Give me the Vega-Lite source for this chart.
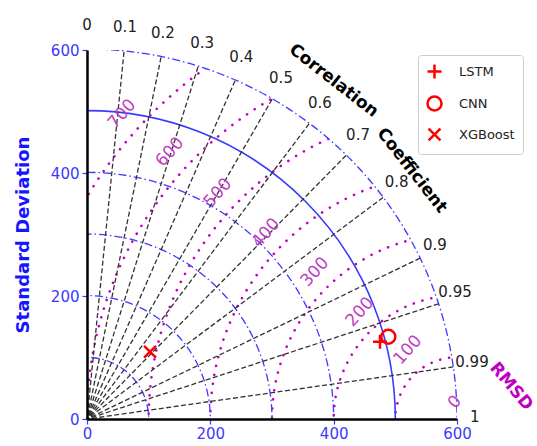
{
  "$schema": "https://vega.github.io/schema/vega-lite/v6.json",
  "width": 370,
  "height": 369,
  "autosize": {"type": "none"},
  "padding": {"left": 87, "top": 50, "right": 80, "bottom": 27},
  "background": "white",
  "config": {"view": {"stroke": null}, "font": "DejaVu Sans"},
  "layer": [
    {
      "data": {"values": [
        {"model": "LSTM", "x": 475.1, "y": 125.7},
        {"model": "CNN", "x": 488.6, "y": 133.8},
        {"model": "XGBoost", "x": 102.2, "y": 109.4}
      ]},
      "mark": {"type": "point", "filled": false, "color": "#ff0000", "strokeWidth": 2.5, "size": 196, "opacity": 0},
      "encoding": {
        "x": {"field": "x", "type": "quantitative", "scale": {"domain": [0, 600], "nice": false, "zero": false},
          "axis": {"values": [0, 200, 400, 600], "title": null, "grid": false, "domainColor": "#000000", "domainWidth": 2.5, "tickColor": "#3a3aff", "tickSize": 5, "tickWidth": 1.2, "labelColor": "#3a3aff", "labelFontSize": 15, "labelFont": "DejaVu Sans", "labelPadding": 2, "labelFlush": false, "zindex": 1}},
        "y": {"field": "y", "type": "quantitative", "scale": {"domain": [0, 600], "nice": false, "zero": false},
          "axis": {"values": [0, 200, 400, 600], "title": "Standard Deviation", "titleColor": "#1515ff", "titleFontSize": 18, "titleFontWeight": "bold", "titleFont": "DejaVu Sans", "titlePadding": 18, "grid": false, "domainColor": "#000000", "domainWidth": 2.5, "tickColor": "#3a3aff", "tickSize": 5, "tickWidth": 1.2, "labelColor": "#3a3aff", "labelFontSize": 15, "labelFont": "DejaVu Sans", "labelPadding": 3, "labelFlush": false, "zindex": 1}}
      }
    },
    {
      "data": {"values": [{"rmsd": 100}, {"rmsd": 200}, {"rmsd": 300}, {"rmsd": 400}, {"rmsd": 500}, {"rmsd": 600}, {"rmsd": 700}]},
      "mark": {"type": "point", "shape": "circle", "filled": false, "stroke": "#c000c0", "strokeWidth": 2.6, "strokeDash": [0.1, 9], "strokeCap": "round", "clip": true, "opacity": 1},
      "encoding": {
        "x": {"datum": 600, "type": "quantitative", "scale": {"domain": [0, 600], "nice": false, "zero": false}, "axis": {"title": null}},
        "y": {"datum": 0, "type": "quantitative", "scale": {"domain": [0, 600], "nice": false, "zero": false}, "axis": {"title": "Standard Deviation"}},
        "size": {"field": "rmsd", "type": "quantitative", "scale": {"type": "pow", "exponent": 2, "domain": [0, 600], "range": [0, 547600], "clamp": false}, "legend": null}
      }
    },
    {
      "data": {"values": [{"part": "mask"}]},
      "mark": {"type": "point", "shape": "circle", "filled": false, "stroke": "white", "strokeWidth": 170, "size": 828100, "clip": true, "opacity": 1},
      "encoding": {
        "x": {"datum": 0, "type": "quantitative", "scale": {"domain": [0, 600], "nice": false, "zero": false}, "axis": {"title": null}},
        "y": {"datum": 0, "type": "quantitative", "scale": {"domain": [0, 600], "nice": false, "zero": false}, "axis": {"title": "Standard Deviation"}}
      }
    },
    {
      "data": {"values": [{"sd": 100}, {"sd": 200}, {"sd": 300}, {"sd": 400}, {"sd": 600}]},
      "mark": {"type": "point", "shape": "circle", "filled": false, "stroke": "#3a3aff", "strokeWidth": 1.3, "strokeDash": [8, 3, 1.5, 3], "clip": true, "opacity": 1},
      "encoding": {
        "x": {"datum": 0, "type": "quantitative", "scale": {"domain": [0, 600], "nice": false, "zero": false}, "axis": {"title": null}},
        "y": {"datum": 0, "type": "quantitative", "scale": {"domain": [0, 600], "nice": false, "zero": false}, "axis": {"title": "Standard Deviation"}},
        "size": {"field": "sd", "type": "quantitative", "scale": {"type": "pow", "exponent": 2, "domain": [0, 600], "range": [0, 547600], "clamp": false}, "legend": null}
      }
    },
    {
      "data": {"values": [{"sd": 500}]},
      "mark": {"type": "point", "shape": "circle", "filled": false, "stroke": "#3a3aff", "strokeWidth": 1.6, "clip": true, "opacity": 1},
      "encoding": {
        "x": {"datum": 0, "type": "quantitative", "scale": {"domain": [0, 600], "nice": false, "zero": false}, "axis": {"title": null}},
        "y": {"datum": 0, "type": "quantitative", "scale": {"domain": [0, 600], "nice": false, "zero": false}, "axis": {"title": "Standard Deviation"}},
        "size": {"field": "sd", "type": "quantitative", "scale": {"type": "pow", "exponent": 2, "domain": [0, 600], "range": [0, 547600], "clamp": false}, "legend": null}
      }
    },
    {
      "data": {"values": [
        {"corr": 0.1, "ex": 60, "ey": 596.99},
        {"corr": 0.2, "ex": 120, "ey": 587.88},
        {"corr": 0.3, "ex": 180, "ey": 572.36},
        {"corr": 0.4, "ex": 240, "ey": 549.91},
        {"corr": 0.5, "ex": 300, "ey": 519.62},
        {"corr": 0.6, "ex": 360, "ey": 480},
        {"corr": 0.7, "ex": 420, "ey": 428.49},
        {"corr": 0.8, "ex": 480, "ey": 360},
        {"corr": 0.9, "ex": 540, "ey": 261.53},
        {"corr": 0.95, "ex": 570, "ey": 187.35},
        {"corr": 0.99, "ex": 594, "ey": 84.64}
      ]},
      "mark": {"type": "rule", "stroke": "#333333", "strokeWidth": 1.3, "strokeDash": [5, 2.5]},
      "encoding": {
        "x": {"field": "ex", "type": "quantitative", "scale": {"domain": [0, 600], "nice": false, "zero": false}, "axis": {"title": null}},
        "y": {"field": "ey", "type": "quantitative", "scale": {"domain": [0, 600], "nice": false, "zero": false}, "axis": {"title": "Standard Deviation"}},
        "x2": {"datum": 0},
        "y2": {"datum": 0}
      }
    },
    {
      "data": {"values": [
        {"c": "0", "lx": 0, "ly": 640},
        {"c": "0.1", "lx": 61.6, "ly": 637},
        {"c": "0.2", "lx": 123.2, "ly": 627.6},
        {"c": "0.3", "lx": 186.8, "ly": 610.9},
        {"c": "0.4", "lx": 250.2, "ly": 589.1},
        {"c": "0.5", "lx": 314.6, "ly": 554.5},
        {"c": "0.6", "lx": 377.8, "ly": 513.8},
        {"c": "0.7", "lx": 439.5, "ly": 461.8},
        {"c": "0.8", "lx": 502.2, "ly": 386},
        {"c": "0.9", "lx": 564.3, "ly": 282.9},
        {"c": "0.95", "lx": 596.8, "ly": 206.8},
        {"c": "0.99", "lx": 624.3, "ly": 92.7},
        {"c": "1", "lx": 629, "ly": 3.3}
      ]},
      "mark": {"type": "text", "fontSize": 15, "color": "#222222", "align": "center", "baseline": "middle"},
      "encoding": {
        "x": {"field": "lx", "type": "quantitative", "scale": {"domain": [0, 600], "nice": false, "zero": false}, "axis": {"title": null}},
        "y": {"field": "ly", "type": "quantitative", "scale": {"domain": [0, 600], "nice": false, "zero": false}, "axis": {"title": "Standard Deviation"}},
        "text": {"field": "c"}
      }
    },
    {
      "data": {"values": [
        {"t": "700", "lx": 56.8, "ly": 495.9},
        {"t": "600", "lx": 134.6, "ly": 434.1},
        {"t": "500", "lx": 212.4, "ly": 367.5},
        {"t": "400", "lx": 290.3, "ly": 302.4},
        {"t": "300", "lx": 369.7, "ly": 239},
        {"t": "200", "lx": 442.7, "ly": 174},
        {"t": "100", "lx": 520.5, "ly": 112.2},
        {"t": "0", "lx": 596.7, "ly": 27.6}
      ]},
      "mark": {"type": "text", "fontSize": 17, "color": "#c040c0", "align": "center", "baseline": "middle", "angle": 312},
      "encoding": {
        "x": {"field": "lx", "type": "quantitative", "scale": {"domain": [0, 600], "nice": false, "zero": false}, "axis": {"title": null}},
        "y": {"field": "ly", "type": "quantitative", "scale": {"domain": [0, 600], "nice": false, "zero": false}, "axis": {"title": "Standard Deviation"}},
        "text": {"field": "t"}
      }
    },
    {
      "data": {"values": [{"t": "Correlation", "lx": 400, "ly": 550}]},
      "mark": {"type": "text", "fontSize": 17, "fontWeight": "bold", "color": "#000000", "align": "center", "baseline": "middle", "angle": 38},
      "encoding": {
        "x": {"field": "lx", "type": "quantitative", "scale": {"domain": [0, 600], "nice": false, "zero": false}, "axis": {"title": null}},
        "y": {"field": "ly", "type": "quantitative", "scale": {"domain": [0, 600], "nice": false, "zero": false}, "axis": {"title": "Standard Deviation"}},
        "text": {"field": "t"}
      }
    },
    {
      "data": {"values": [{"t": "Coefficient", "lx": 527, "ly": 404}]},
      "mark": {"type": "text", "fontSize": 17, "fontWeight": "bold", "color": "#000000", "align": "center", "baseline": "middle", "angle": 52},
      "encoding": {
        "x": {"field": "lx", "type": "quantitative", "scale": {"domain": [0, 600], "nice": false, "zero": false}, "axis": {"title": null}},
        "y": {"field": "ly", "type": "quantitative", "scale": {"domain": [0, 600], "nice": false, "zero": false}, "axis": {"title": "Standard Deviation"}},
        "text": {"field": "t"}
      }
    },
    {
      "data": {"values": [{"t": "RMSD", "lx": 688, "ly": 53}]},
      "mark": {"type": "text", "fontSize": 17, "fontWeight": "bold", "color": "#c000c0", "align": "center", "baseline": "middle", "angle": 50},
      "encoding": {
        "x": {"field": "lx", "type": "quantitative", "scale": {"domain": [0, 600], "nice": false, "zero": false}, "axis": {"title": null}},
        "y": {"field": "ly", "type": "quantitative", "scale": {"domain": [0, 600], "nice": false, "zero": false}, "axis": {"title": "Standard Deviation"}},
        "text": {"field": "t"}
      }
    },
    {
      "data": {"values": [
        {"model": "LSTM", "x": 475.1, "y": 125.7},
        {"model": "CNN", "x": 488.6, "y": 133.8},
        {"model": "XGBoost", "x": 102.2, "y": 109.4}
      ]},
      "mark": {"type": "point", "filled": false, "color": "#ff0000", "strokeWidth": 2.5, "size": 196, "opacity": 1},
      "encoding": {
        "x": {"field": "x", "type": "quantitative", "scale": {"domain": [0, 600], "nice": false, "zero": false}, "axis": {"title": null}},
        "y": {"field": "y", "type": "quantitative", "scale": {"domain": [0, 600], "nice": false, "zero": false}, "axis": {"title": "Standard Deviation"}},
        "shape": {"field": "model", "type": "nominal",
          "scale": {"domain": ["LSTM", "CNN", "XGBoost"], "range": ["M-1,0L1,0M0,-1L0,1", "circle", "M-0.85,-0.85L0.85,0.85M-0.85,0.85L0.85,-0.85"]},
          "legend": {"title": null, "orient": "none", "legendX": 331, "legendY": 5, "padding": 8, "strokeColor": "#cccccc", "fillColor": "white", "cornerRadius": 3, "labelFont": "DejaVu Sans", "labelFontSize": 13, "labelColor": "#222222", "symbolSize": 196, "symbolStrokeWidth": 2.5, "symbolStrokeColor": "#ff0000", "rowPadding": 7, "labelOffset": 16}}
      }
    }
  ]
}
